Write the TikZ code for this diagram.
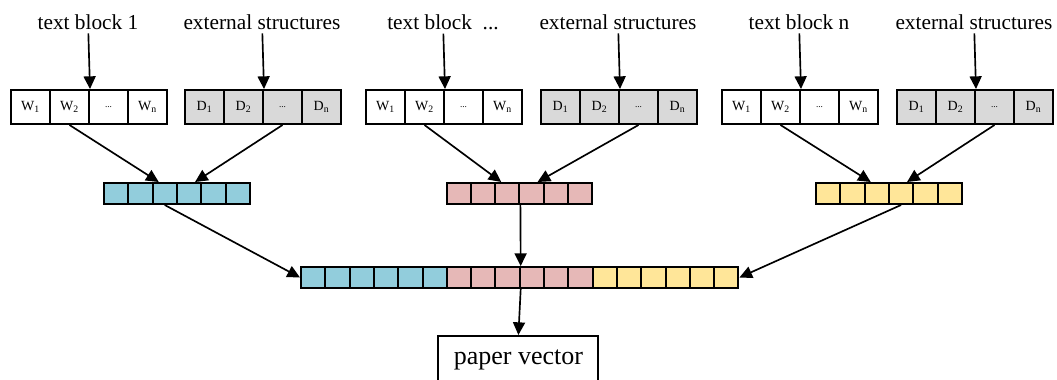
\documentclass[tikz,border=0pt]{standalone}
\usepackage{fontspec}
\setmainfont{Liberation Serif}
\usetikzlibrary{arrows.meta,calc}
\definecolor{vcyan}{RGB}{146,205,220}
\definecolor{vpink}{RGB}{230,184,183}
\definecolor{vyellow}{RGB}{255,230,153}
\definecolor{dgray}{RGB}{217,217,217}
\begin{document}
\begin{tikzpicture}[x=0.75pt,y=-0.75pt,
  wcell/.style={draw,line width=1.5pt,minimum width=29.25pt,minimum height=25.5pt,inner sep=0pt,anchor=north west,font=\fontsize{10.5}{12}\selectfont},
  scell/.style={draw,line width=1.5pt,minimum width=18.225pt,minimum height=15.75pt,inner sep=0pt,anchor=north west},
  lab/.style={font=\fontsize{16}{19}\selectfont,anchor=base,inner sep=3pt},
  pbox/.style={draw,line width=1.5pt,minimum width=120pt,minimum height=36pt,anchor=north,font=\fontsize{19.5}{23}\selectfont},
  arr/.style={-{Triangle[length=9.5pt,width=9pt]},line width=1.25pt}]
\useasboundingbox (0,0) rectangle (1057,379);
\foreach \g/\wx/\dx/\sx/\c/\lab in {1/10/184/103/vcyan/{text block 1},2/365/540/445.5/vpink/{text block\ \ ...},3/721/896/815/vyellow/{text block n}}{
  \foreach \i/\t in {1/W\textsubscript{1},2/W\textsubscript{2},3/{\scriptsize ...},4/W\textsubscript{n}}
    \node[wcell] (w\g\i) at (\wx+39*\i-39,89) {\t};
  \foreach \i/\t in {1/D\textsubscript{1},2/D\textsubscript{2},3/{\scriptsize ...},4/D\textsubscript{n}}
    \node[wcell,fill=dgray] (d\g\i) at (\dx+39*\i-39,89) {\t};
  \node[lab] (t\g) at (\wx+78,29) {\lab};
  \node[lab] (e\g) at (\dx+78,29) {external structures};
  \draw[arr] (t\g) -- (w\g2.north east);
  \draw[arr] (e\g) -- (d\g2.north east);
  \foreach \j in {1,...,6}
    \node[scell,fill=\c] (s\g\j) at (\sx+24.3*\j-24.3,182) {};
  \draw[arr] (w\g2.south) -- ($(s\g3.north)+(-6,0)$);
  \draw[arr] (d\g3.south) -- ($(s\g4.north)+(6,0)$);
}
\foreach \k in {1,...,18}{
  \ifnum\k<7 \def\bc{vcyan}\else\ifnum\k<13 \def\bc{vpink}\else\def\bc{vyellow}\fi\fi
  \node[scell,fill=\bc] (B\k) at (300+24.3*\k-24.3,266) {};
}
\node[pbox] (paper) at (518.4,335) {paper vector};
\draw[arr] (s13.south) -- (B1.west);
\draw[arr] (s23.south east) -- (B9.north east);
\draw[arr] (s34.south) -- (B18.east);
\draw[arr] (B9.south east) -- (paper.north);
\end{tikzpicture}
\end{document}
